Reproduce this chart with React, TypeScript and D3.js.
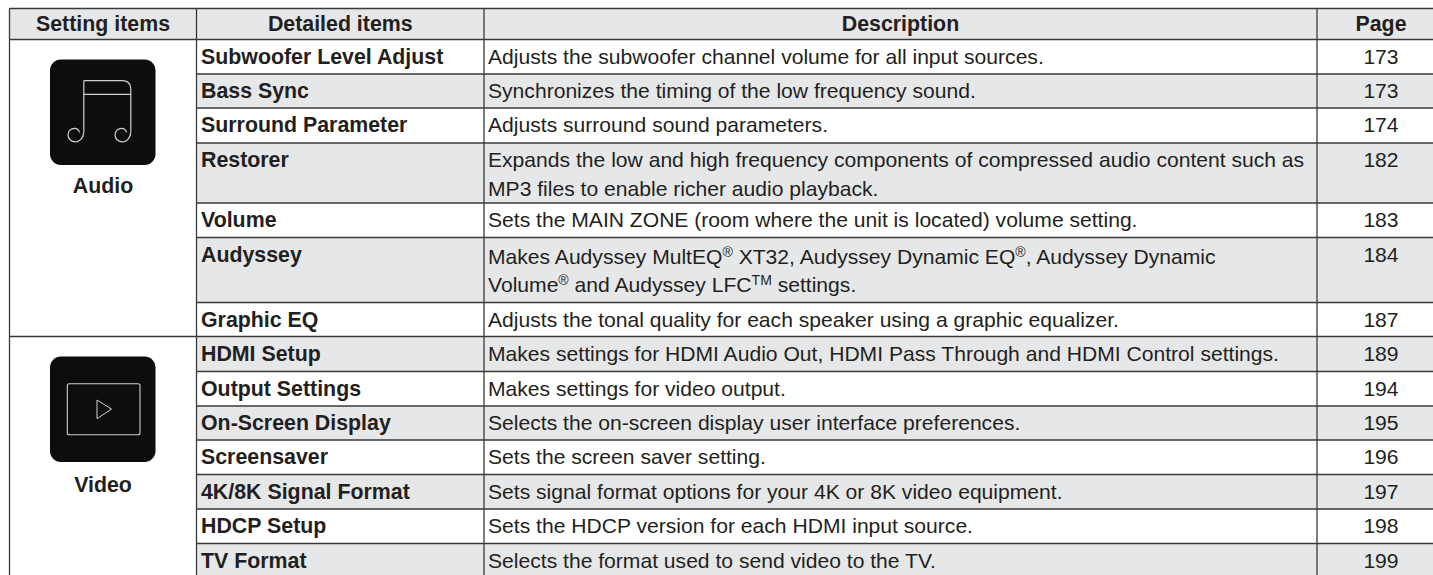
import React from "react";
import { scaleOrdinal, line, curveLinear } from "d3";

const headers = ["Setting items", "Detailed items", "Description", "Page"];
const items = ["Subwoofer Level Adjust","Bass Sync","Surround Parameter","Restorer","Volume","Audyssey","Graphic EQ","HDMI Setup","Output Settings","On-Screen Display","Screensaver","4K/8K Signal Format","HDCP Setup","TV Format"];
const pages = [173,173,174,182,183,184,187,189,194,195,196,197,198,199];
type Seg = string | { sup: string };
const descriptions: Seg[][][] = [
  [["Adjusts the subwoofer channel volume for all input sources."]],
  [["Synchronizes the timing of the low frequency sound."]],
  [["Adjusts surround sound parameters."]],
  [["Expands the low and high frequency components of compressed audio content such as"],["MP3 files to enable richer audio playback."]],
  [["Sets the MAIN ZONE (room where the unit is located) volume setting."]],
  [["Makes Audyssey MultEQ",{sup:"®"}," XT32, Audyssey Dynamic EQ",{sup:"®"},", Audyssey Dynamic"],["Volume",{sup:"®"}," and Audyssey LFC",{sup:"TM"}," settings."]],
  [["Adjusts the tonal quality for each speaker using a graphic equalizer."]],
  [["Makes settings for HDMI Audio Out, HDMI Pass Through and HDMI Control settings."]],
  [["Makes settings for video output."]],
  [["Selects the on-screen display user interface preferences."]],
  [["Sets the screen saver setting."]],
  [["Sets signal format options for your 4K or 8K video equipment."]],
  [["Sets the HDCP version for each HDMI input source."]],
  [["Selects the format used to send video to the TV."]],
];
const shaded = [false,true,false,true,false,true,false,true,false,true,false,true,false,true];
const groups = ["Audio","Video"];

const font = "'Liberation Sans', Arial, sans-serif";
const ink = "#231f20";
const rule = "#3a3a3a";
const fillGray = "#e6e7e8";
const colX = [9.5, 196.5, 484, 1317, 1445];
const headY = [8.5, 39.5];
const edges = [39.5,74,108,143,203,237.5,302.5,336.5,371.5,406,440,474.5,509,543.5,580];
const fs = 21.1;
const fsBold = 21.35;

export default function App() {
  const rowFill = scaleOrdinal<string,string>().domain(["false","true"]).range(["#ffffff", fillGray]);
  const path = line<[number,number]>().curve(curveLinear);
  const baseline = (i: number) => edges[i] + 24.4;
  const descBaseline = (i: number) => edges[i] + (i === 5 ? 26.2 : 24.4);
  return (
    <svg width={1433} height={575} style={{position:"fixed",left:0,top:0,background:"#fff"}} fontFamily={font} fontSize={fs} fill={ink}>
      <rect x={colX[0]} y={headY[0]} width={colX[4]-colX[0]} height={headY[1]-headY[0]} fill={fillGray}/>
      {items.map((_, i) => (
        <rect key={i} x={colX[1]} y={edges[i]} width={colX[4]-colX[1]} height={edges[i+1]-edges[i]} fill={rowFill(String(shaded[i]))}/>
      ))}
      {headers.map((h,i)=>(
        <text key={h} x={(colX[i]+colX[i+1])/2} y={30.7} textAnchor="middle" fontWeight={700} fontSize={fsBold}>{h}</text>
      ))}
      {items.map((t,i)=>(
        <g key={t}>
          <text x={201} y={baseline(i)} fontWeight={700} fontSize={fsBold}>{t}</text>
          {descriptions[i].map((segs,k)=>(
            <text key={k} x={488} y={descBaseline(i)+k*28.4}>
              {segs.map((s,j)=> typeof s==="string"
                ? <tspan key={j}>{s}</tspan>
                : <tspan key={j} fontSize={14} baselineShift="7">{s.sup}</tspan>)}
            </text>
          ))}
          <text x={(colX[3]+colX[4])/2} y={baseline(i)} textAnchor="middle">{pages[i]}</text>
        </g>
      ))}
      <g stroke={rule} strokeWidth={1.3} fill="none">
        <path d={path([[colX[0],headY[0]],[colX[4],headY[0]]])!}/>
        {edges.slice(0,-1).map((y,i)=>(
          <path key={i} d={path([[i===0||i===7?colX[0]:colX[1],y],[colX[4],y]])!}/>
        ))}
        {colX.slice(0,4).map(x=><path key={x} d={path([[x,headY[0]],[x,575]])!}/>)}
      </g>
      <g transform="translate(50,59.5)">
        <rect width={105.5} height={105.5} rx={11} fill="#0d0d0d"/>
        <g fill="none" stroke="#d0d0d0" strokeWidth={1.2}>
          <path d="M33.8 21.2 H72 Q80.8 21.2 80.8 30 V72 M33.8 21.2 V72 M33.8 34.8 H80.8"/>
          <path d="M33.8 72 C33.8 78 30 82.3 25.5 82.3 C21 82.3 18 79 18 75.5 C18 71.5 21 68.8 24.5 68.8 C27 68.8 29 70.5 29.5 73"/>
          <path d="M80.8 72 C80.8 78 77 82.3 72.5 82.3 C68 82.3 65 79 65 75.5 C65 71.5 68 68.8 71.5 68.8 C74 68.8 76 70.5 76.5 73"/>
        </g>
      </g>
      <text x={103} y={193} textAnchor="middle" fontWeight={700} fontSize={fsBold}>{groups[0]}</text>
      <g transform="translate(50,356.5)">
        <rect width={105.5} height={105.5} rx={11} fill="#0d0d0d"/>
        <rect x={17.3} y={27.2} width={72.7} height={51} rx={2} fill="none" stroke="#d0d0d0" strokeWidth={1.1}/>
        <path d="M47 43.5 L61.5 52.5 L47 62.2 Z" fill="none" stroke="#d0d0d0" strokeWidth={1}/>
      </g>
      <text x={103} y={492} textAnchor="middle" fontWeight={700} fontSize={fsBold}>{groups[1]}</text>
    </svg>
  );
}
